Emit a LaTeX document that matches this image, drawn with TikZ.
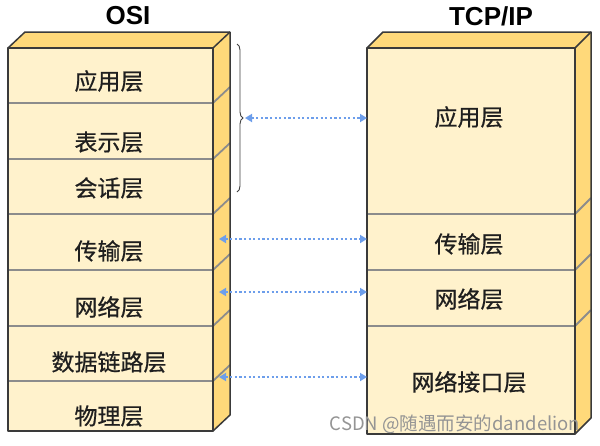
\documentclass[tikz,border=0pt]{standalone}
\usepackage{fontspec}
\setmainfont{Liberation Sans}
\newfontfamily\cjk[FakeBold=0.6]{Noto Sans CJK SC}
\newfontfamily\cjkwm{Noto Sans CJK SC}
\usetikzlibrary{arrows.meta,decorations.pathreplacing}
\definecolor{frontc}{HTML}{FFF2CC}
\definecolor{sidec}{HTML}{FFD97A}
\definecolor{linec}{HTML}{8C8C8C}
\definecolor{edgec}{HTML}{3A3A3A}
\definecolor{arrc}{HTML}{6D9EEB}
\tikzset{
  face/.style={fill=frontc, draw=none, inner sep=0pt, outer sep=0pt, anchor=north west},
  lbl/.style={font=\cjk\fontsize{23}{24}\selectfont, text=black!88},
  divider/.style={draw=linec, line width=1.8pt},
  edgeline/.style={draw=edgec, line width=1.5pt, line join=round},
  sideface/.style={fill=sidec},
  link/.style={draw=arrc, line width=2.3pt, dash pattern=on 2.2pt off 2.4pt,
    {Triangle[length=7pt,width=8pt]}-{Triangle[length=7pt,width=8pt]}},
  title/.style={font=\bfseries\fontsize{26}{26}\selectfont},
  wm/.style={font=\cjkwm\fontsize{18.5}{19}\selectfont, text=black!42}
}
\begin{document}
\begin{tikzpicture}[x=1pt,y=-1pt]
\useasboundingbox[fill=white] (0,0) rectangle (600,445);
% titles
\node[title] (osititle) at (128,16) {OSI};
\node[title] (tcptitle) at (491,16) {TCP/IP};
% ===== OSI =====
\fill[sideface] (8,48) -- (25,32) -- (230,32) -- (213,48) -- cycle;
\fill[sideface] (213,48) -- (230,32) -- (230,415) -- (213,431) -- cycle;
\node[face, minimum width=205pt, minimum height=55pt] (o1) at (8,48) {};
\node[face, minimum width=205pt, minimum height=56pt] (o2) at (8,103) {};
\node[face, minimum width=205pt, minimum height=55pt] (o3) at (8,159) {};
\node[face, minimum width=205pt, minimum height=56pt] (o4) at (8,214) {};
\node[face, minimum width=205pt, minimum height=56pt] (o5) at (8,270) {};
\node[face, minimum width=205pt, minimum height=55pt] (o6) at (8,326) {};
\node[face, minimum width=205pt, minimum height=50pt] (o7) at (8,381) {};
\foreach \n in {o1,o2,o3,o4,o5,o6}
  \draw[divider] (\n.south west) -- (\n.south east) -- ++(17,-16);
\draw[edgeline] (o1.north west) -- (o7.south west) -- (o7.south east) -- (o1.north east) -- cycle;
\draw[edgeline] (o1.north west) -- (25,32) -- (230,32) -- (230,415) -- (o7.south east);
\draw[edgeline] (o1.north east) -- (230,32);
\node[lbl] (o1t) at (109,81) {应用层};
\node[lbl] (o2t) at (109,142) {表示层};
\node[lbl] (o3t) at (109,188) {会话层};
\node[lbl] (o4t) at (109,251) {传输层};
\node[lbl] (o5t) at (109,307) {网络层};
\node[lbl] (o6t) at (109,362) {数据链路层};
\node[lbl] (o7t) at (109,416) {物理层};
% ===== TCP/IP =====
\fill[sideface] (367,48) -- (383,32) -- (591,32) -- (575,48) -- cycle;
\fill[sideface] (575,48) -- (591,32) -- (591,418) -- (575,434) -- cycle;
\node[face, minimum width=208pt, minimum height=166pt] (t1) at (367,48) {};
\node[face, minimum width=208pt, minimum height=56pt] (t2) at (367,214) {};
\node[face, minimum width=208pt, minimum height=56pt] (t3) at (367,270) {};
\node[face, minimum width=208pt, minimum height=108pt] (t4) at (367,326) {};
\foreach \n in {t1,t2,t3}
  \draw[divider] (\n.south west) -- (\n.south east) -- ++(16,-16);
\draw[edgeline] (t1.north west) -- (t4.south west) -- (t4.south east) -- (t1.north east) -- cycle;
\draw[edgeline] (t1.north west) -- (383,32) -- (591,32) -- (591,418) -- (t4.south east);
\draw[edgeline] (t1.north east) -- (591,32);
\node[lbl] (t1t) at (469,117) {应用层};
\node[lbl] (t2t) at (469,244) {传输层};
\node[lbl] (t3t) at (469,299) {网络层};
\node[lbl] (t4t) at (469,382) {网络接口层};
% brace
\draw[draw=black!75, line width=0.9pt, decorate, decoration={brace, amplitude=6pt}] (237,44) -- (237,192);
% links
\coordinate (b1) at (245,118);
\coordinate (l2) at (219,239);
\coordinate (l3) at (219,292);
\coordinate (l4) at (219,377);
\draw[link] (b1) -- (t1.west |- b1);
\draw[link] (l2) -- (t2.west |- l2);
\draw[link] (l3) -- (t3.west |- l3);
\draw[link] (l4) -- (t4.west |- l4);
% watermark
\node[wm] (wmark) at (455,424) {CSDN @随遇而安的dandelion};
\end{tikzpicture}
\end{document}
